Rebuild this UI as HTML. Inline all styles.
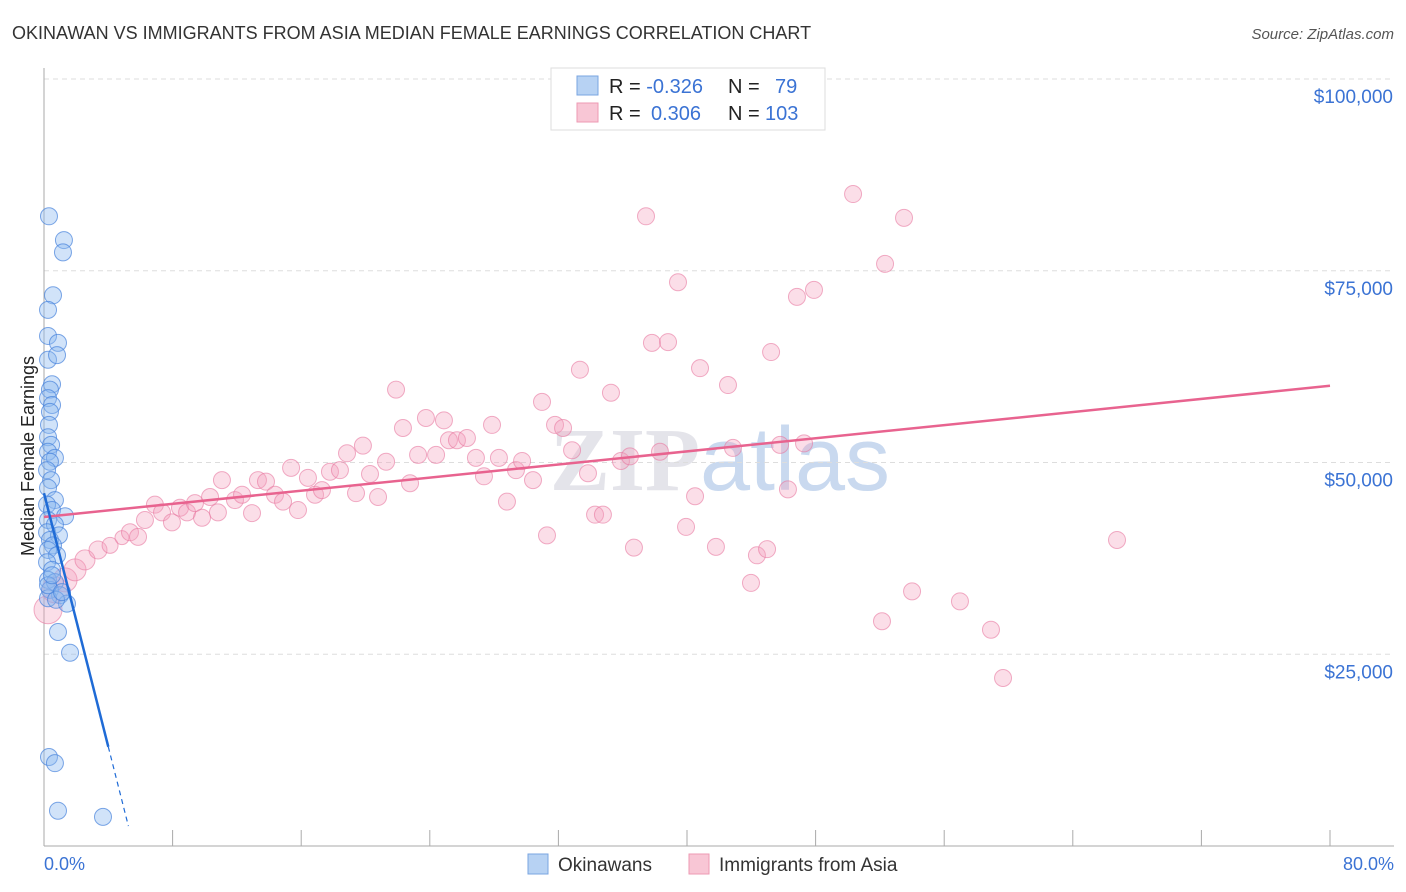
<!DOCTYPE html>
<html><head><meta charset="utf-8"><style>
body{margin:0;background:#fff;font-family:"Liberation Sans",sans-serif;}
svg{display:block}
</style></head><body>
<svg id="chart" width="1406" height="892">
<text x="12" y="39" font-size="18" fill="#333">OKINAWAN VS IMMIGRANTS FROM ASIA MEDIAN FEMALE EARNINGS CORRELATION CHART</text>
<text x="1394" y="39" font-size="15" fill="#555" font-style="italic" text-anchor="end">Source: ZipAtlas.com</text>
<text x="720" y="490" font-size="90" fill="#e4e4ea" text-anchor="middle" font-family="Liberation Serif,serif" font-weight="bold">ZIP<tspan fill="#c9d9ef" font-family="Liberation Sans,sans-serif" font-weight="normal">atlas</tspan></text>
<g id="grid"></g><g id="axes"></g><g id="pts"></g><g id="lines"></g>
<text transform="translate(34,456) rotate(-90)" font-size="18" fill="#222" text-anchor="middle">Median Female Earnings</text>
<text x="44" y="870" font-size="18" fill="#3b73d4">0.0%</text>
<text x="1394" y="870" font-size="18" fill="#3b73d4" text-anchor="end">80.0%</text>
<g>
<rect x="551" y="68" width="274" height="62" fill="#fff" stroke="#ddd"/>
<rect x="577" y="76" width="21" height="19" fill="#b7d2f3" stroke="#7aa5e0"/>
<rect x="577" y="103" width="21" height="19" fill="#f8c6d5" stroke="#ee9ab3"/>
<text x="609" y="93" font-size="20" fill="#222">R = <tspan fill="#3b73d4">-0.326</tspan><tspan x="728">N = </tspan><tspan x="775" fill="#3b73d4">79</tspan></text>
<text x="609" y="120" font-size="20" fill="#222">R = <tspan x="651" fill="#3b73d4">0.306</tspan><tspan x="728">N = </tspan><tspan x="765" fill="#3b73d4">103</tspan></text>
</g>
<g>
<rect x="528" y="854" width="20" height="20" fill="#b7d2f3" stroke="#7aa5e0"/>
<text x="558" y="871" font-size="19" fill="#333">Okinawans</text>
<rect x="689" y="854" width="20" height="20" fill="#f8c6d5" stroke="#ee9ab3"/>
<text x="719" y="871" font-size="19" fill="#333">Immigrants from Asia</text>
</g>
</svg>
<script>
const yTicks=[25000,50000,75000,100000];
const yTickLabels=["$25,000","$50,000","$75,000","$100,000"];
const blueX=[0.31,1.24,1.18,0.56,0.25,0.25,0.87,0.25,0.81,0.5,0.37,0.25,0.5,0.37,0.31,0.25,0.44,0.25,0.68,0.37,0.19,0.44,0.25,0.68,0.19,0.5,1.31,0.25,0.68,0.19,0.93,0.37,0.56,0.25,0.81,0.19,0.5,0.25,0.68,0.37,1.0,0.25,1.43,0.75,0.87,1.62,0.31,0.68,0.87,3.67,0.25,0.5,1.12];
const blueY=[82.1,79.0,77.4,71.8,69.9,66.5,65.6,63.4,64.0,60.2,59.5,58.4,57.5,56.6,54.9,53.3,52.3,51.4,50.6,50.1,49.0,47.7,46.7,45.1,44.5,43.8,43.0,42.5,41.9,40.9,40.5,39.9,39.2,38.6,37.9,37.0,36.0,34.7,34.4,33.4,32.7,32.3,31.6,32.1,27.9,25.2,11.6,10.8,4.6,3.8,34.0,35.3,33.1];
const pinkX=[0.25,0.68,1.31,1.93,2.55,3.36,4.11,4.85,5.35,5.85,6.28,6.9,7.34,7.96,8.46,8.9,9.39,9.83,10.33,10.82,11.07,11.88,12.32,12.94,13.31,13.81,14.37,14.87,15.37,15.8,16.42,16.86,17.29,17.79,18.41,18.85,19.41,19.84,20.28,20.78,21.28,21.9,22.33,22.77,23.27,23.76,24.39,24.88,25.19,25.69,26.31,26.87,27.37,27.87,28.3,28.8,29.36,29.74,30.42,30.98,31.29,31.79,32.29,32.85,33.34,33.84,34.28,34.77,35.27,35.89,36.45,36.7,37.45,37.82,38.32,38.82,39.44,39.94,40.5,40.81,41.8,42.55,42.86,44.35,43.98,44.98,45.23,45.79,46.28,46.84,47.28,47.9,50.33,52.13,52.32,53.5,54.0,56.98,58.91,59.66,66.75];
const pinkY=[30.8,33.4,34.7,36.0,37.3,38.6,39.2,40.2,40.9,40.3,42.5,44.5,43.5,42.2,44.1,43.5,44.7,42.8,45.5,43.5,47.7,45.1,45.8,43.4,47.7,47.5,45.8,44.9,49.3,43.8,48.0,45.8,46.4,48.8,49.0,51.2,46.0,52.2,48.5,45.5,50.1,59.5,54.5,47.3,51.0,55.8,51.0,55.5,52.9,52.9,53.2,50.6,48.2,54.9,50.6,44.9,49.0,50.2,47.7,57.9,40.5,54.9,54.5,51.6,62.1,48.6,43.2,43.2,59.1,50.2,50.8,38.9,82.1,65.6,51.4,65.7,73.5,41.6,45.6,62.3,39.0,60.1,51.9,37.9,34.3,38.7,64.4,52.3,46.5,71.6,52.5,72.5,85.0,29.3,75.9,81.9,33.2,31.9,28.2,21.9,39.9];
const blueTrend=[46000,-1240000/150];
const pinkTrend=[42900,213.75];
const ns="http://www.w3.org/2000/svg";
const X=p=>44+p*(1286/80), Y=v=>846-v*0.00767;
function mk(t,a,parent){const e=document.createElementNS(ns,t);for(const k in a)e.setAttribute(k,a[k]);document.getElementById(parent).appendChild(e);return e;}
yTicks.forEach((t,i)=>{
 const l=mk('line',{x1:44,x2:1394,y1:Y(t),y2:Y(t),stroke:'#ddd','stroke-dasharray':'5,4'},'grid');
 
 
 const tx=mk('text',{x:1393,y:Y(t)+24,'font-size':19,fill:'#3b73d4','text-anchor':'end'},'grid');
 tx.textContent=yTickLabels[i];
 
 
});
const ax=mk('line',{x1:44,x2:44,y1:68,y2:846,stroke:'#aaa'},'axes');


const bx=mk('line',{x1:44,x2:1394,y1:846,y2:846,stroke:'#aaa'},'axes');


for(let i=1;i<=10;i++){const tk=mk('line',{x1:X(i*8),x2:X(i*8),y1:830,y2:846,stroke:'#aaa'},'axes');
 
 }
pinkX.forEach((x,i)=>{const r=i<8?(14-i):8.5;
 const c=mk('circle',{cx:X(x),cy:Y(pinkY[i]*1000),r:r,fill:'rgba(244,160,188,0.35)',stroke:'rgba(232,120,160,0.6)','stroke-width':1},'pts');
 
 });
blueX.forEach((x,i)=>{
 const c=mk('circle',{cx:X(x),cy:Y(blueY[i]*1000),r:8.5,fill:'rgba(140,185,240,0.4)',stroke:'rgba(70,130,220,0.7)','stroke-width':1},'pts');
 
 });
const pt=mk('line',{x1:X(0),y1:Y(pinkTrend[0]),x2:X(80),y2:Y(pinkTrend[0]+pinkTrend[1]*80),stroke:'#e8638f','stroke-width':2.5},'lines');


const bt=mk('line',{x1:X(0),y1:Y(blueTrend[0]),x2:X(4),y2:Y(blueTrend[0]+blueTrend[1]*4),stroke:'#1f6bd6','stroke-width':2.5},'lines');


const bd=mk('line',{x1:X(4),y1:Y(blueTrend[0]+blueTrend[1]*4),x2:X(5.25),y2:Y(blueTrend[0]+blueTrend[1]*5.25),stroke:'#1f6bd6','stroke-width':1.2,'stroke-dasharray':'5,4'},'lines');


</script>
</body></html>
